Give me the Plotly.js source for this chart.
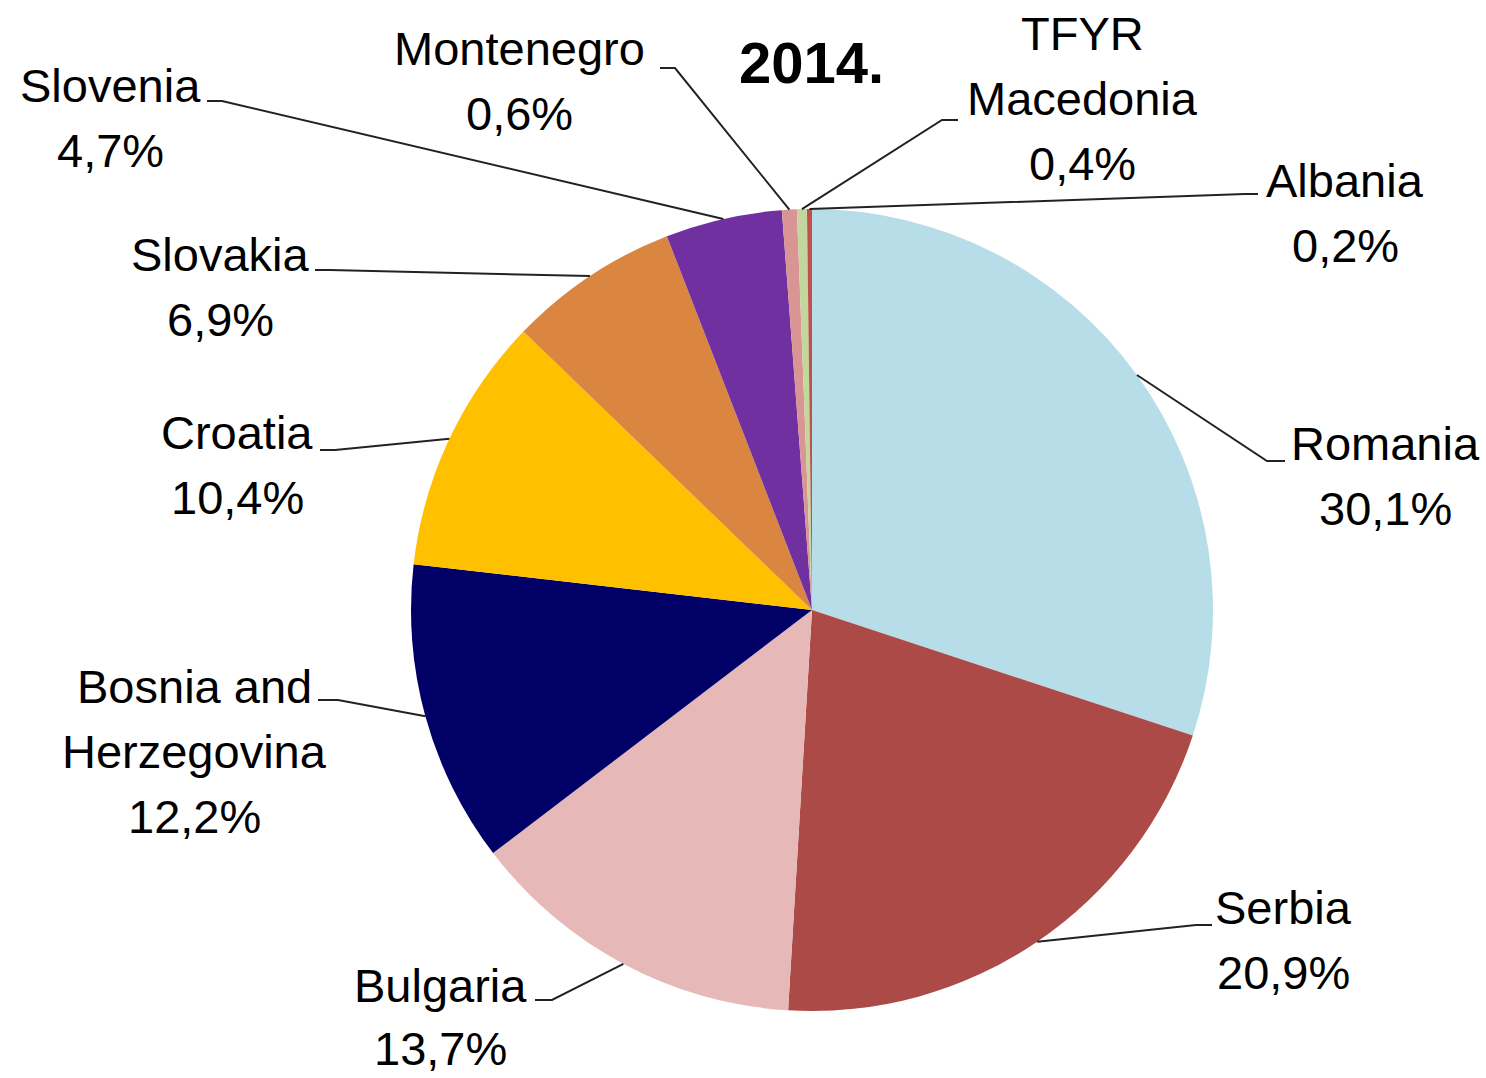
<!DOCTYPE html>
<html>
<head>
<meta charset="utf-8">
<script src="https://cdn.plot.ly/plotly-3.0.1.min.js"></script>
<style>html,body{margin:0;padding:0;background:#fff;}#chart{width:1486px;height:1078px;}</style>
</head>
<body>
<div id="chart"></div>
<script>
// ---- data ----
const countries = ["Romania","Serbia","Bulgaria","Bosnia and Herzegovina","Croatia","Slovakia","Slovenia","Montenegro","TFYR Macedonia","Albania"];
const shares = [30.1, 20.9, 13.7, 12.2, 10.4, 6.9, 4.7, 0.6, 0.4, 0.2];
const labelLines = [["Romania"],["Serbia"],["Bulgaria"],["Bosnia and","Herzegovina"],["Croatia"],["Slovakia"],["Slovenia"],["Montenegro"],["TFYR","Macedonia"],["Albania"]];
const chartTitle = "2014.";

// ---- styles / layout ----
const colors = ["#B7DDE8","#AB4A47","#E6B9B8","#000066","#FFC000","#DA8540","#7030A0","#D99594","#C3D69B","#C0504D"];
const W = 1486, H = 1078;
const pieBox = {x0:410, x1:1214, y0:209, y1:1011}; // pixels
// label positions: cx, first line center y, tick start x, elbow x, tick y
const labelPos = [
  {cx:1385, y:443, tx:1285, ex:1267, ey:461},
  {cx:1283, y:907, tx:1212, ex:1196, ey:925},
  {cx:440,  y:985, tx:535,  ex:552,  ey:1000, gap:63},
  {cx:194,  y:686, tx:318,  ex:338,  ey:700},
  {cx:237,  y:432, tx:320,  ex:335,  ey:450},
  {cx:220,  y:254, tx:315,  ex:330,  ey:270},
  {cx:110,  y:86,  tx:207,  ex:222,  ey:101},
  {cx:519,  y:48,  tx:660,  ex:675,  ey:68},
  {cx:1082, y:33,  tx:958,  ex:942,  ey:120},
  {cx:1345, y:180, tx:1258, ex:1245, ey:194}
];
const lineGap = 65;
const FONT = "Liberation Sans, Arial, sans-serif";

const px = x => x / W, py = y => 1 - y / H;

const cx = (pieBox.x0 + pieBox.x1) / 2, cy = (pieBox.y0 + pieBox.y1) / 2;
const R = Math.min(pieBox.x1 - pieBox.x0, pieBox.y1 - pieBox.y0) / 2;
const total = shares.reduce((a, b) => a + b, 0);

const annotations = [{
  text: "<b>" + chartTitle + "</b>", x: px(812), y: py(63), xref: "paper", yref: "paper",
  showarrow: false, xanchor: "center", yanchor: "middle", font: {family: FONT, size: 58, color: "#000"}
}];
const shapes = [];
let cum = 0;
shares.forEach((v, i) => {
  const mid = (cum + v / 2) / total * 2 * Math.PI;
  cum += v;
  const ex = cx + R * Math.sin(mid), ey = cy - R * Math.cos(mid);
  const lp = labelPos[i];
  const gap = lp.gap || lineGap;
  const lines = labelLines[i].concat([v.toFixed(1).replace(".", ",") + "%"]);
  lines.forEach((t, k) => {
    annotations.push({
      text: t, x: px(lp.cx), y: py(lp.y + k * gap), xref: "paper", yref: "paper",
      showarrow: false, xanchor: "center", yanchor: "middle",
      font: {family: FONT, size: 47, color: "#000"}
    });
  });
  shapes.push({
    type: "path", xref: "paper", yref: "paper",
    path: `M ${px(lp.tx)} ${py(lp.ey)} L ${px(lp.ex)} ${py(lp.ey)} L ${px(ex)} ${py(ey)}`,
    line: {color: "#222", width: 2}
  });
});

const trace = {
  type: "pie", labels: countries, values: shares, sort: false, direction: "clockwise", rotation: 0,
  marker: {colors: colors, line: {width: 0}}, textinfo: "none", hoverinfo: "label+percent",
  domain: {x: [px(pieBox.x0), px(pieBox.x1)], y: [py(pieBox.y1), py(pieBox.y0)]}
};

Plotly.newPlot("chart", [trace], {
  width: W, height: H, margin: {l: 0, r: 0, t: 0, b: 0}, showlegend: false,
  paper_bgcolor: "#fff", annotations: annotations, shapes: shapes
}, {displayModeBar: false, staticPlot: true});
</script>
</body>
</html>
